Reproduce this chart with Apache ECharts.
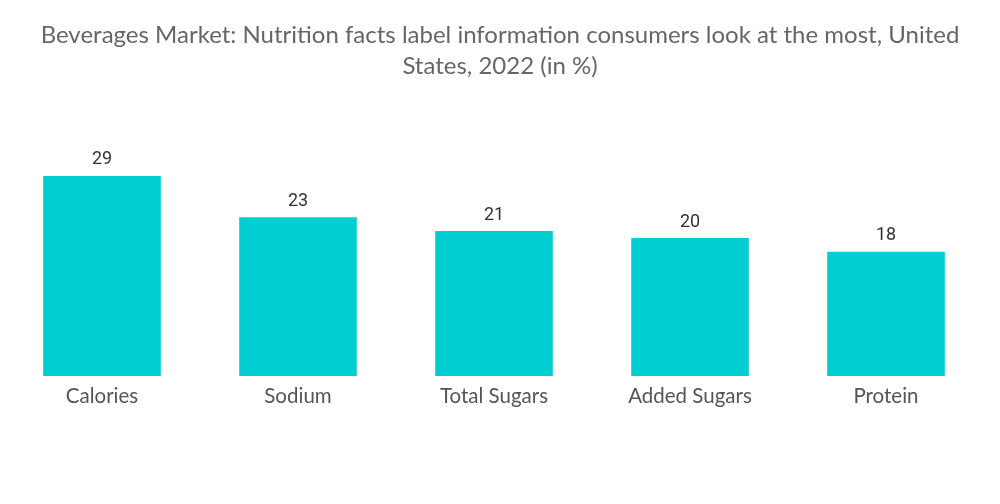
<!DOCTYPE html>
<html><head><meta charset="utf-8">
<script src="https://cdn.jsdelivr.net/npm/echarts@6/dist/echarts.min.js"></script>
<style>html,body{margin:0;padding:0;background:#fff}#c{width:1000px;height:504px}</style>
</head><body><div id="c"></div>
<script>
const categories = ["Calories", "Sodium", "Total Sugars", "Added Sugars", "Protein"];
const values = [29, 23, 21, 20, 18];
const titleText = "Beverages Market: Nutrition facts label information consumers look at the most, United\nStates, 2022 (in %)";

const chart = echarts.init(document.getElementById('c'));
chart.setOption({
  animation: false,
  title: {
    text: titleText,
    left: 'center',
    top: 15,
    textStyle: {fontFamily: 'Lato', fontSize: 24, fontWeight: 'normal', color: '#666', lineHeight: 31}
  },
  grid: {left: 4, right: 16, top: 169, bottom: 128, containLabel: false},
  xAxis: {
    type: 'category',
    data: categories,
    axisLine: {show: false},
    axisTick: {show: false},
    axisLabel: {fontFamily: 'Lato', fontSize: 20.5, color: '#555', margin: 10}
  },
  yAxis: {type: 'value', min: 0, max: 30, show: false, splitLine: {show: false}},
  series: [{
    type: 'bar',
    data: values,
    barWidth: '60%',
    itemStyle: {color: '#00CED1'},
    label: {show: true, position: 'top', distance: 7, fontFamily: 'Roboto', fontSize: 18, color: '#333'}
  }]
});
</script></body></html>
